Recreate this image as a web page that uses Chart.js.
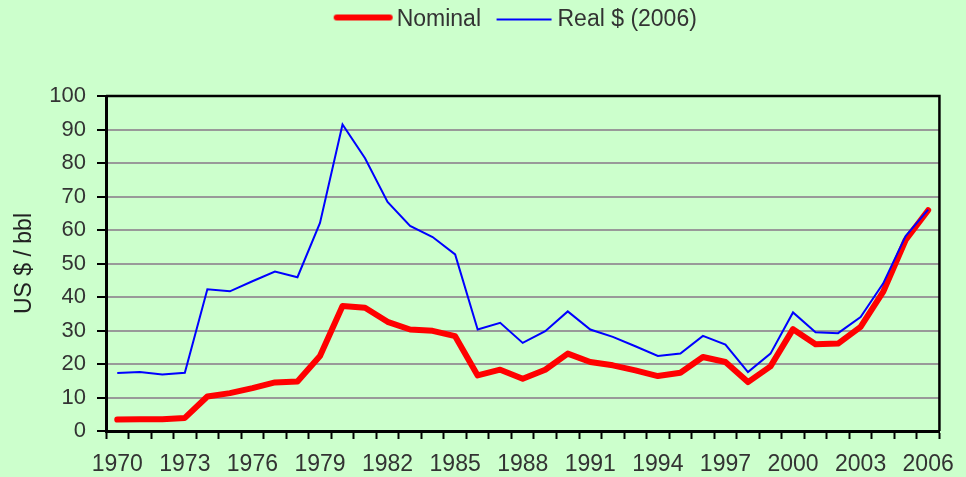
<!DOCTYPE html>
<html>
<head>
<meta charset="utf-8">
<title>Oil price</title>
<script src="https://cdn.jsdelivr.net/npm/chart.js@4/dist/chart.umd.min.js"></script>
<style>
    html, body { margin: 0; padding: 0; background: #ccffcc; }
    #wrap { width: 966px; height: 477px; }
</style>
</head>
<body>
<div id="wrap"><canvas id="oilChart" width="966" height="477"></canvas></div>
<script>
const years = [
    "1970", "1971", "1972", "1973", "1974", "1975", "1976", "1977", "1978", "1979",
    "1980", "1981", "1982", "1983", "1984", "1985", "1986", "1987", "1988", "1989",
    "1990", "1991", "1992", "1993", "1994", "1995", "1996", "1997", "1998", "1999",
    "2000", "2001", "2002", "2003", "2004", "2005", "2006"
];

// only every third year gets a label
const xTickLabels = ["1970", "1973", "1976", "1979", "1982", "1985", "1988",
    "1991", "1994", "1997", "2000", "2003", "2006"];

const nominal = [
    3.4, 3.5, 3.5, 3.9, 10.3, 11.3, 12.8, 14.5, 14.8, 22.4,
    37.3, 36.8, 32.6, 30.3, 29.9, 28.3, 16.6, 18.3, 15.6, 18.3,
    23.1, 20.6, 19.6, 18.1, 16.4, 17.4, 22.1, 20.6, 14.6, 19.3,
    30.4, 25.9, 26.1, 31.1, 41.5, 57.0, 65.9
];

const real2006 = [
    17.3, 17.6, 16.9, 17.4, 42.3, 41.7, 44.7, 47.6, 45.9, 62.1,
    91.5, 81.4, 68.4, 61.2, 57.9, 52.7, 30.3, 32.3, 26.3, 29.8,
    35.7, 30.3, 28.1, 25.3, 22.4, 23.1, 28.4, 25.8, 17.6, 23.1,
    35.4, 29.5, 29.2, 34.0, 44.0, 58.2, 66.1
];

Chart.defaults.font.family = '"Liberation Sans", Arial, sans-serif';

// small canvas used as legend symbol, so the line can sit close to its text
function legendLine(color, width, x0, x1, dy, cap) {
    const c = document.createElement("canvas");
    c.width = 90;
    c.height = 24;
    const g = c.getContext("2d");
    g.strokeStyle = color;
    g.lineWidth = width;
    g.lineCap = cap;
    g.beginPath();
    g.moveTo(x0, 12 + dy);
    g.lineTo(x1, 12 + dy);
    g.stroke();
    return c;
}

const legendSymbols = [
    legendLine("#ff0000", 6, 25, 78, -2, "round"),
    legendLine("#0000ff", 2, 24, 79, 0, "butt")
];

// legend takes the whole band above the plot, and sits a bit right of centre
const legendBand = {
    id: "legendBand",
    beforeInit(chart) {
        const legend = chart.legend;
        const fit = legend.fit;
        legend.fit = function () {
            fit.call(legend);
            legend.height = 96;
        };
    },
    afterLayout(chart) {
        chart.legend.left += 39;
        chart.legend.right += 39;
    }
};

// black top and right edges of the plot box
const plotFrame = {
    id: "plotFrame",
    beforeDatasetsDraw(chart) {
        const { ctx, chartArea } = chart;
        ctx.save();
        ctx.strokeStyle = "#000";
        ctx.lineWidth = 2.5;
        ctx.beginPath();
        ctx.moveTo(chartArea.left, chartArea.top);
        ctx.lineTo(chartArea.right, chartArea.top);
        ctx.lineTo(chartArea.right, chartArea.bottom);
        ctx.stroke();
        ctx.restore();
    }
};

const ctx = document.getElementById("oilChart").getContext("2d");

new Chart(ctx, {
    type: "line",
    data: {
        labels: years,
        datasets: [
            {
                label: "Nominal",
                data: nominal,
                borderColor: "#ff0000",
                backgroundColor: "#ff0000",
                borderWidth: 6,
                borderCapStyle: "round",
                borderJoinStyle: "round",
                pointRadius: 0,
                tension: 0,
                order: 1
            },
            {
                label: "Real $ (2006)",
                data: real2006,
                borderColor: "#0000ff",
                backgroundColor: "#0000ff",
                borderWidth: 2,
                pointRadius: 0,
                tension: 0,
                order: 0
            }
        ]
    },
    options: {
        responsive: false,
        animation: false,
        devicePixelRatio: 1,
        layout: {
            padding: { left: 0, right: 19, top: 0, bottom: 0 }
        },
        plugins: {
            legend: {
                display: true,
                position: "top",
                labels: {
                    usePointStyle: true,
                    pointStyleWidth: 57,
                    color: "#333333",
                    font: { size: 23 },
                    padding: 8,
                    sort: (a, b) => a.datasetIndex - b.datasetIndex,
                    generateLabels: function (chart) {
                        const items = Chart.defaults.plugins.legend.labels.generateLabels(chart);
                        items.forEach(item => {
                            item.pointStyle = legendSymbols[item.datasetIndex];
                        });
                        return items;
                    }
                }
            },
            tooltip: { enabled: false }
        },
        scales: {
            x: {
                offset: true,
                grid: {
                    offset: true,
                    drawOnChartArea: false,
                    tickLength: 8,
                    tickColor: "#000",
                    tickWidth: 2
                },
                border: { color: "#000", width: 3 },
                ticks: {
                    autoSkip: false,
                    maxRotation: 0,
                    color: "#333333",
                    font: { size: 23 },
                    padding: 12,
                    callback: function (value, index) {
                        const y = years[index];
                        return xTickLabels.includes(y) ? y : "";
                    }
                },
                afterFit: scale => { scale.height = 46; }
            },
            y: {
                min: 0,
                max: 100,
                ticks: {
                    stepSize: 10,
                    color: "#333333",
                    font: { size: 22 },
                    padding: 11
                },
                grid: {
                    color: "#999999",
                    lineWidth: 2,
                    tickLength: 9,
                    tickColor: "#000",
                    tickWidth: 2
                },
                border: { color: "#000", width: 3 },
                title: {
                    display: true,
                    text: "US $ / bbl",
                    color: "#222222",
                    font: { size: 23 },
                    padding: { top: 11, bottom: 0 }
                },
                afterFit: scale => { scale.width = 106; }
            }
        }
    },
    plugins: [legendBand, plotFrame]
});
</script>
</body>
</html>
